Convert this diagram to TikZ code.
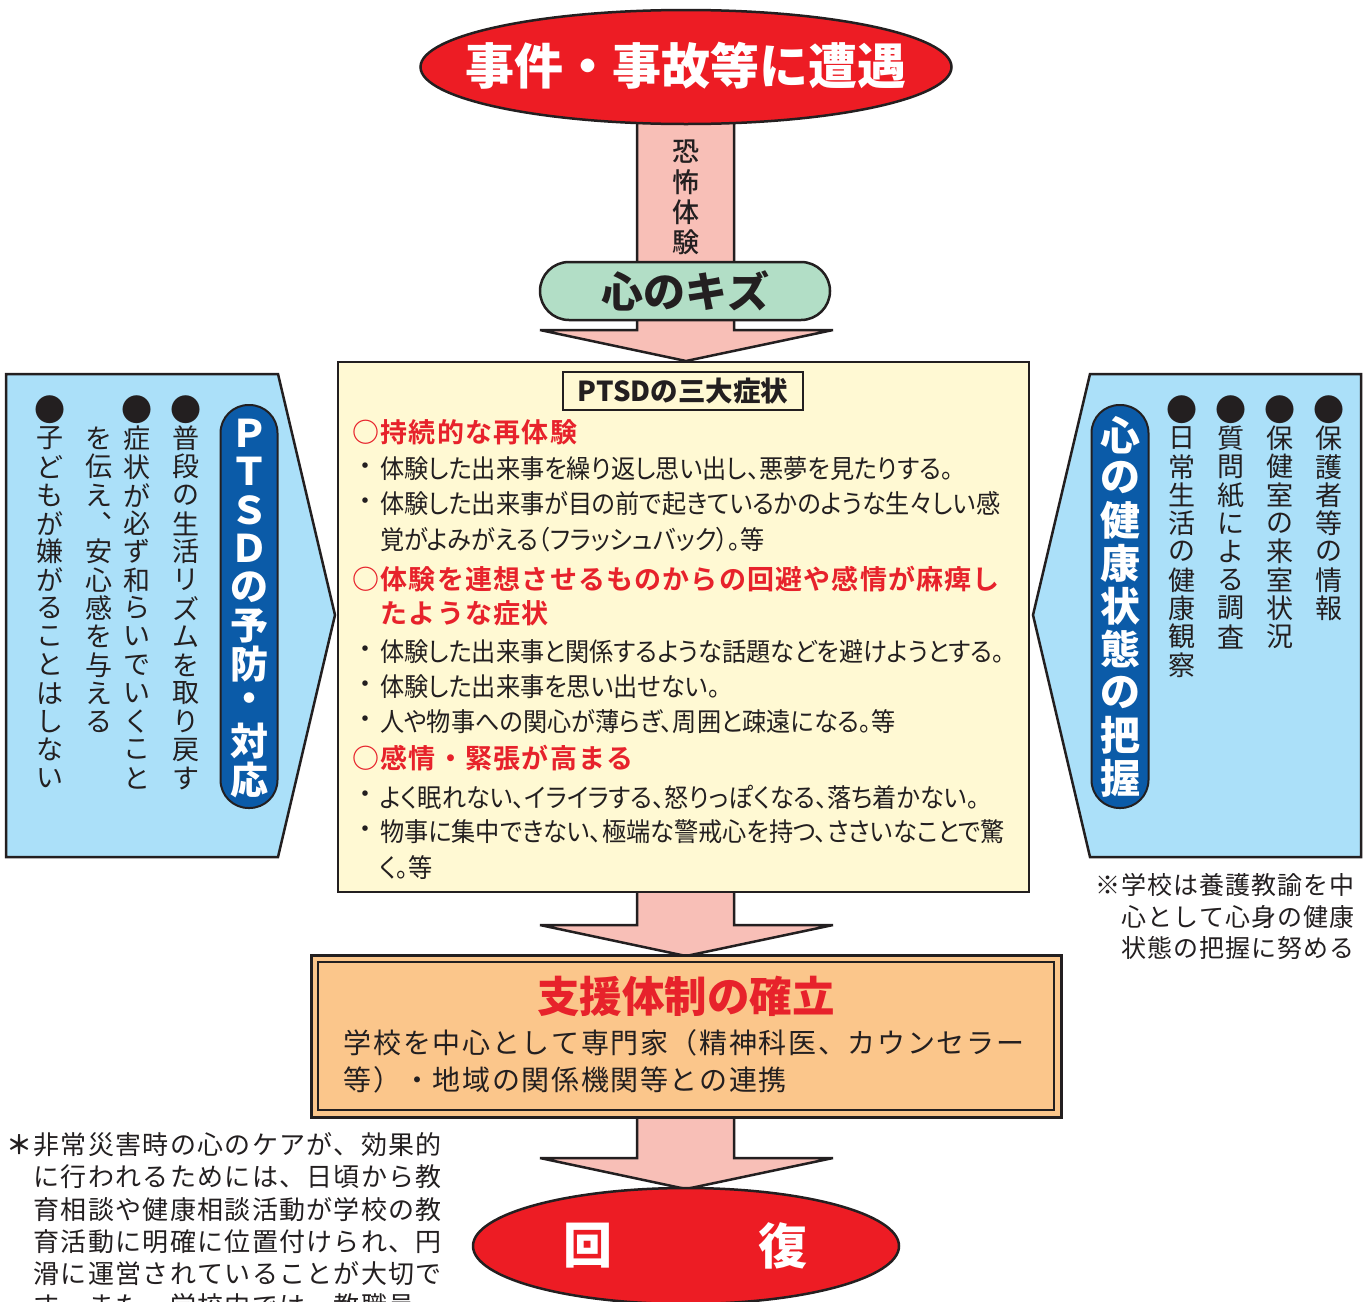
\documentclass[tikz,border=0pt]{standalone}
\usepackage{fontspec}
\usetikzlibrary{shapes.geometric}
\newfontfamily\jp{Noto Sans CJK JP}
\newfontfamily\jpp[RawFeature=+palt,FakeStretch=0.93]{Noto Sans CJK JP}
\IfFontExistsTF{Noto Sans CJK JP Bold}{\newfontfamily\jpb{Noto Sans CJK JP Bold}}{\newcommand\jpb{\jp\bfseries}}
\IfFontExistsTF{Noto Sans CJK JP Black}{\newfontfamily\jpk{Noto Sans CJK JP Black}}{\newcommand\jpk{\jpb}}
\IfFontExistsTF{Noto Sans CJK JP Medium}{\newfontfamily\jpm{Noto Sans CJK JP Medium}}{\newcommand\jpm{\jp}}
\newcommand\fs[1]{\fontsize{#1}{#1}\selectfont}
\newcommand\bul{\scalebox{1.15}{●}}
\newlength\vstep
\newlength\hstep
\def\vsloop#1{\ifx#1\vsend\else\hbox to \vstep{\hss\vbox to \vstep{\vss\hbox{#1}\vss}\hss}\expandafter\vsloop\fi}
\newcommand\vtext[2]{\vbox{\offinterlineskip\setlength\vstep{#1}\vsloop#2\vsend}}
\def\hsloop#1{\ifx#1\hsend\else\hbox to \hstep{\hss#1\hss}\expandafter\hsloop\fi}
\newcommand\htext[2]{\hbox{\setlength\hstep{#1}\hsloop#2\hsend}}
\definecolor{evred}{HTML}{ED1C24}
\definecolor{arrowpink}{HTML}{F8BFB7}
\definecolor{kizugreen}{HTML}{B2DEC6}
\definecolor{cream}{HTML}{FFF9D3}
\definecolor{lblue}{HTML}{ABE0F9}
\definecolor{dblue}{HTML}{0B5BA8}
\definecolor{lorange}{HTML}{FBC68B}
\definecolor{hred}{HTML}{E7222B}
\definecolor{ink}{HTML}{231F20}
\begin{document}
\begin{tikzpicture}[x=1pt,y=-1pt,line join=miter,
  every node/.style={inner sep=0pt,outer sep=0pt,text=ink},
  blockarrow/.style={fill=arrowpink,draw=ink,line width=2.5pt,miter limit=2},
  panel/.style={fill=lblue,draw=ink,line width=2.5pt},
  pill/.style={rectangle,rounded corners=28pt,fill=dblue,draw=ink,line width=2pt,minimum width=57pt,minimum height=403pt,text=white},
  body/.style={anchor=west,font=\jpp\fs{26}},
  dot/.style={font=\jp\fs{26}},
  redhead/.style={anchor=west,text=hred,font=\jpb\fs{27}},
  vcol/.style={anchor=north,font=\jp\fs{27}},
  note/.style={anchor=west,font=\jp\fs{25}}]
\useasboundingbox (0,0) rectangle (1370,1301);
\clip (0,0) rectangle (1370,1301);
\fill[white] (0,0) rectangle (1370,1301);

% block arrows
\draw[blockarrow] (637,115) -- (637,330) -- (540,330) -- (686,361) -- (833,330) -- (734,330) -- (734,115);
\draw[blockarrow] (637,888) -- (637,925) -- (540,925) -- (686,956) -- (833,925) -- (734,925) -- (734,888);
\draw[blockarrow] (637,1113) -- (637,1158) -- (540,1158) -- (686,1189) -- (833,1158) -- (734,1158) -- (734,1113);

% top ellipse
\node[ellipse,draw=ink,line width=2.5pt,fill=evred,minimum width=531pt,minimum height=114pt] (incident) at (686,67) {};
\node[text=white,font=\jpk\fs{49}] (incidentlabel) at (686,66) {事件・事故等に遭遇};
\node[anchor=north,font=\jpm\fs{27}] (fear) at (686,137) {\vtext{30pt}{恐怖体験}};

% kizu
\node[rectangle,rounded corners=29pt,draw=ink,line width=2.5pt,fill=kizugreen,minimum width=290pt,minimum height=58pt,font=\jpk\fs{42}] (kizu) at (685,291) {心のキズ};

% side panels
\draw[panel] (6,374) -- (278,374) -- (335,615) -- (278,857) -- (6,857) -- cycle;
\draw[panel] (1090,374) -- (1361,374) -- (1361,857) -- (1090,857) -- (1033,615) -- cycle;

\node[pill,font=\jpk\fs{38}] (prevpill) at (249,606.5) {\vtext{38.5pt}{ＰＴＳＤの予防・対応}};
\node[pill,font=\jpk\fs{40}] (healthpill) at (1120,606.5) {\vtext{42.9pt}{心の健康状態の把握}};

\node[vcol] (lc1) at (186,396) {\vtext{28.3pt}{\bul 普段の生活リズムを取り戻す}};
\node[vcol] (lc2) at (137,396) {\vtext{28.3pt}{\bul 症状が必ず和らいでいくこと}};
\node[vcol] (lc3) at (99,424.3) {\vtext{28.3pt}{を伝え︑安心感を与える}};
\node[vcol] (lc4) at (50,396) {\vtext{28.3pt}{\bul 子どもが嫌がることはしない}};

\node[vcol] (rc1) at (1329,396) {\vtext{28.3pt}{\bul 保護者等の情報}};
\node[vcol] (rc2) at (1280,396) {\vtext{28.3pt}{\bul 保健室の来室状況}};
\node[vcol] (rc3) at (1231,396) {\vtext{28.3pt}{\bul 質問紙による調査}};
\node[vcol] (rc4) at (1182,396) {\vtext{28.3pt}{\bul 日常生活の健康観察}};

% symptoms box
\node[rectangle,draw=ink,line width=2.5pt,fill=cream,minimum width=691pt,minimum height=530pt] (sympt) at (683.5,627) {};
\node[draw=ink,line width=2pt,minimum width=240pt,minimum height=38pt,font=\jpk\fs{27.5}] (symtitle) at (683,391) {PTSDの三大症状};

\node[redhead] (h1) at (352,432) {\htext{28.2pt}{○持続的な再体験}};
\node[dot] (d1) at (365,469) {・};
\node[body] (b1) at (380,469) {体験した出来事を繰り返し思い出し、悪夢を見たりする。};
\node[dot] (d2) at (365,504) {・};
\node[body] (b2) at (380,504) {体験した出来事が目の前で起きているかのような生々しい感};
\node[body] (b3) at (380,540) {覚がよみがえる（フラッシュバック）。等};

\node[redhead] (h2) at (352,579) {\htext{28.2pt}{○体験を連想させるものからの回避や感情が麻痺し}};
\node[redhead] (h2b) at (380.2,613) {\htext{28.2pt}{たような症状}};
\node[dot] (d4) at (365,652) {・};
\node[body] (b4) at (380,652) {体験した出来事と関係するような話題などを避けようとする。};
\node[dot] (d5) at (365,687) {・};
\node[body] (b5) at (380,687) {体験した出来事を思い出せない。};
\node[dot] (d6) at (365,722) {・};
\node[body] (b6) at (380,722) {人や物事への関心が薄らぎ、周囲と疎遠になる。等};

\node[redhead] (h3) at (352,758) {\htext{28.2pt}{○感情・緊張が高まる}};
\node[dot] (d7) at (365,797) {・};
\node[body] (b7) at (380,797) {よく眠れない、イライラする、怒りっぽくなる、落ち着かない。};
\node[dot] (d8) at (365,832) {・};
\node[body] (b8) at (380,832) {物事に集中できない、極端な警戒心を持つ、ささいなことで驚};
\node[body] (b9) at (380,868) {く。等};

% right note
\node[note] (rn1) at (1095,885) {\htext{26pt}{※学校は養護教諭を中}};
\node[note] (rn2) at (1121,917) {\htext{26pt}{心として心身の健康}};
\node[note] (rn3) at (1121,948) {\htext{26pt}{状態の把握に努める}};

% support box
\node[rectangle,draw=ink,line width=3pt,fill=lorange,minimum width=750pt,minimum height=162pt] (support) at (686,1036) {};
\node[rectangle,draw=ink,line width=2pt,minimum width=736pt,minimum height=148pt] (supportinner) at (686,1036) {};
\node[text=hred,font=\jpk\fs{42.5}] (supporttitle) at (686,996) {支援体制の確立};
\node[anchor=west,font=\jp\fs{28}] (s1) at (343,1043) {\htext{29.65pt}{学校を中心として専門家（精神科医、カウンセラー}};
\node[anchor=west,font=\jp\fs{28}] (s2) at (343,1080) {\htext{29.65pt}{等）・地域の関係機関等との連携}};

% recovery ellipse
\node[ellipse,draw=ink,line width=2.5pt,fill=evred,minimum width=426pt,minimum height=116pt] (recovery) at (686,1246) {};
\node[text=white,font=\jpk\fs{49}] (rec1) at (588,1246) {回};
\node[text=white,font=\jpk\fs{49}] (rec2) at (783,1246) {復};

% bottom-left note
\node[font=\jpb\fs{26}] (star) at (19,1145) {＊};
\node[anchor=west,font=\jp\fs{26}] (bn1) at (33,1145) {\htext{27.3pt}{非常災害時の心のケアが、効果的}};
\node[anchor=west,font=\jp\fs{26}] (bn2) at (33,1177) {\htext{27.3pt}{に行われるためには、日頃から教}};
\node[anchor=west,font=\jp\fs{26}] (bn3) at (33,1210) {\htext{27.3pt}{育相談や健康相談活動が学校の教}};
\node[anchor=west,font=\jp\fs{26}] (bn4) at (33,1242) {\htext{27.3pt}{育活動に明確に位置付けられ、円}};
\node[anchor=west,font=\jp\fs{26}] (bn5) at (33,1274) {\htext{27.3pt}{滑に運営されていることが大切で}};
\node[anchor=west,font=\jp\fs{26}] (bn6) at (33,1306) {\htext{27.3pt}{す。また、学校内では、教職員}};
\end{tikzpicture}
\end{document}
